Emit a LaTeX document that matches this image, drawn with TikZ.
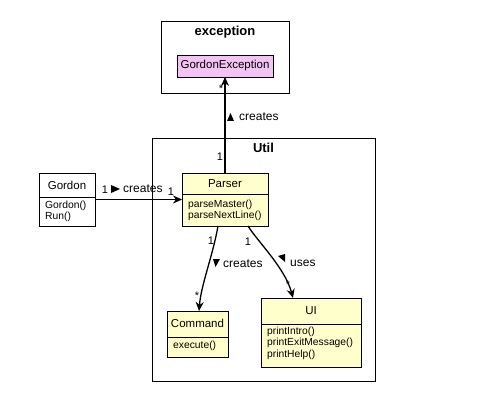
\documentclass[tikz,border=0pt]{standalone}
\usepackage{fontspec}
\setmainfont{Liberation Sans}
\usetikzlibrary{arrows.meta}
\definecolor{clsyellow}{HTML}{FFFFCC}
\definecolor{clspink}{HTML}{F3C3F3}
\tikzset{
  cls/.style={draw=black, line width=0.9pt, fill=clsyellow, inner sep=0pt, outer sep=0pt},
  pkg/.style={draw=black, line width=0.9pt, inner sep=0pt, outer sep=0pt},
  ttl/.style={font=\fontsize{11.5}{13}\selectfont, inner sep=0pt},
  pkgttl/.style={font=\bfseries\fontsize{13}{15}\selectfont, inner sep=0pt},
  mth/.style={font=\fontsize{10.3}{12}\selectfont, inner sep=0pt, anchor=west},
  lbl/.style={font=\fontsize{12}{14}\selectfont, inner sep=0pt},
  mult/.style={font=\fontsize{11}{13}\selectfont, inner sep=0pt},
  conn/.style={line width=1.3pt, -{Stealth[length=9pt,width=8pt]}},
  divline/.style={line width=0.9pt},
  tri/.style={fill=black}
}
\begin{document}
\begin{tikzpicture}[x=1pt,y=-1pt]
\useasboundingbox[fill=white] (0,0) rectangle (486,406);
% packages
\node[pkg, minimum width=128pt, minimum height=72pt] (pkgexc) at (225,57) {};
\node[pkgttl] (pkgexcttl) at (225,32) {exception};
\node[pkg, minimum width=223pt, minimum height=243pt] (pkgutil) at (263.5,259.5) {};
\node[pkgttl] (pkgutilttl) at (263.5,148) {Util};
% GordonException
\node[cls, fill=clspink, minimum width=96pt, minimum height=22pt, font=\fontsize{11.5}{13}\selectfont] (ge) at (225,66) {GordonException};
% Gordon
\node[cls, fill=white, minimum width=56pt, minimum height=53pt] (gordon) at (67,199.5) {};
\node[ttl] (gordonttl) at (67,185) {Gordon};
\draw[divline] (gordon.west |- 0,197) -- (gordon.east |- 0,197);
\node[mth] (gordonm1) at (45,206) {Gordon()};
\node[mth] (gordonm2) at (45,217) {Run()};
% Parser
\node[cls, minimum width=86pt, minimum height=53pt] (parser) at (225,199.5) {};
\node[ttl] (parserttl) at (225,184) {Parser};
\draw[divline] (parser.west |- 0,194) -- (parser.east |- 0,194);
\node[mth] (parserm1) at (188,205) {parseMaster()};
\node[mth] (parserm2) at (188,216) {parseNextLine()};
% Command
\node[cls, minimum width=61pt, minimum height=46pt] (command) at (197.5,334) {};
\node[ttl] (commandttl) at (197.5,323) {Command};
\draw[divline] (command.west |- 0,337) -- (command.east |- 0,337);
\node[mth] (commandm1) at (173,346) {execute()};
% UI
\node[cls, minimum width=100pt, minimum height=69pt] (ui) at (311,332.5) {};
\node[ttl] (uittl) at (311,311) {UI};
\draw[divline] (ui.west |- 0,324) -- (ui.east |- 0,324);
\node[mth] (uim1) at (267,332) {printIntro()};
\node[mth] (uim2) at (267,343) {printExitMessage()};
\node[mth] (uim3) at (267,355) {printHelp()};
% connectors
\draw[conn] (gordon.east) -- (parser.west);
\draw[conn] (parser.north) -- (ge.south);
\draw[conn] ([xshift=-7pt]parser.south) .. controls (213,255) and (201,285) .. ([xshift=1.5pt]command.north);
\draw[conn] ([xshift=23pt]parser.south) .. controls (258,242) and (285,268) .. ([xshift=-18pt]ui.north);
% labels Gordon -> Parser
\node[mult] (m1) at (105,190) {1};
\fill[tri] (111,185) -- (111,193) -- (120,189) -- cycle;
\node[lbl, anchor=west] (l1) at (123,189) {creates};
\node[mult] (m2) at (171,192) {1};
% labels Parser -> GordonException
\node[mult] (m3) at (221,89) {*};
\node[mult] (m4) at (220,157) {1};
\fill[tri] (227,121) -- (234,121) -- (230.5,113) -- cycle;
\node[lbl, anchor=west] (l2) at (239,117) {creates};
% labels Parser -> Command
\node[mult] (m5) at (211,241) {1};
\fill[tri] (213,259) -- (220,259) -- (215.5,267) -- cycle;
\node[lbl, anchor=west] (l3) at (223,264) {creates};
\node[mult] (m6) at (197,296) {*};
% labels Parser -> UI
\node[mult] (m7) at (248,242) {1};
\fill[tri] (285,254) -- (285,262) -- (278,256) -- cycle;
\node[lbl, anchor=west] (l4) at (290,263) {uses};
\node[mult] (m8) at (288,285) {*};
\end{tikzpicture}
\end{document}
